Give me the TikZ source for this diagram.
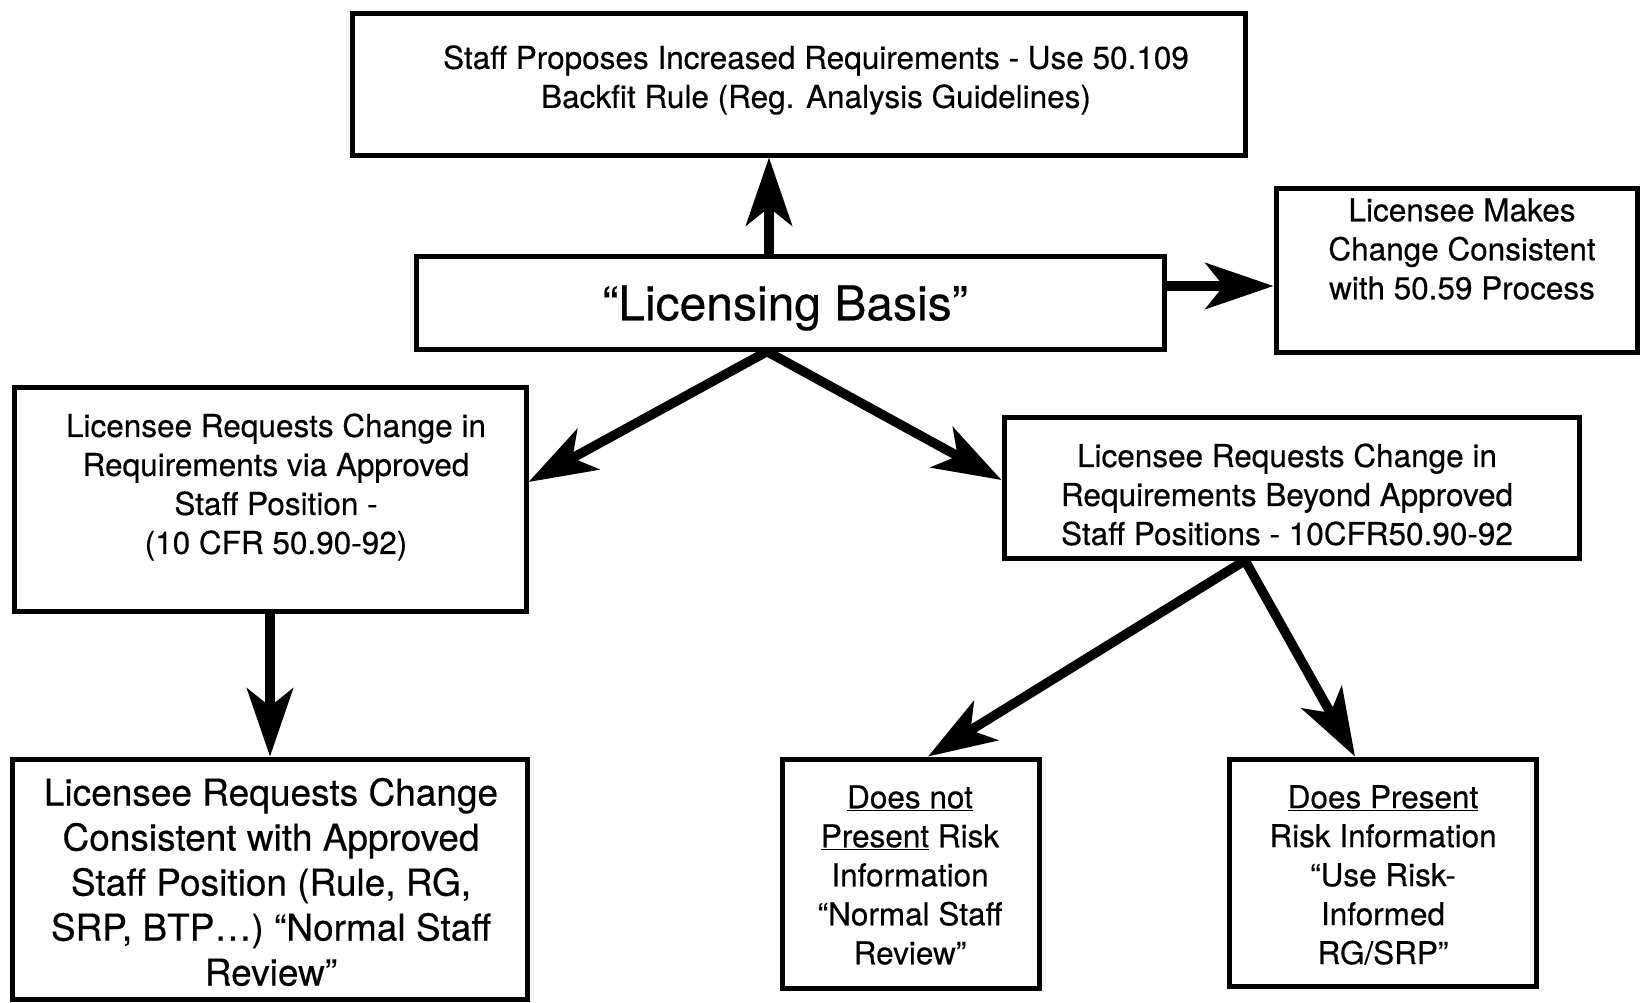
\documentclass[tikz,border=0pt]{standalone}
\usepackage{fontspec}
\setmainfont[FakeBold=0.4]{TeX Gyre Heros}
\usetikzlibrary{arrows.meta}
\begin{document}
\begin{tikzpicture}[x=1pt,y=-1pt,
  box/.style={draw, line width=5pt, inner sep=0pt},
  txt/.style={align=center, inner sep=0pt, font=\fontsize{31.5}{39}\selectfont},
  flow/.style={line width=9.5pt, -{Stealth[length=68pt,width=46pt,inset=18pt]}}]
\useasboundingbox (0,0) rectangle (1640,1002);
\fill[white] (0,0) rectangle (1640,1002);

% boxes
\node[box, minimum width=893pt, minimum height=142pt] (staff) at (798.5,84) {};
\node[box, minimum width=748pt, minimum height=93pt] (lb) at (790,302.5) {};
\node[box, minimum width=361pt, minimum height=164pt] (makes) at (1456.5,270) {};
\node[box, minimum width=512pt, minimum height=224pt] (lreq) at (270,499) {};
\node[box, minimum width=575pt, minimum height=141pt] (rreq) at (1291.5,487.5) {};
\node[box, minimum width=515pt, minimum height=240pt] (consist) at (270,879) {};
\node[box, minimum width=257pt, minimum height=229pt] (nonrisk) at (910.5,873.5) {};
\node[box, minimum width=307pt, minimum height=227pt] (risk) at (1382.5,872.5) {};

% box texts
\node[txt] (staffT) at (816,80) {Staff Proposes Increased Requirements - Use 50.109\\Backfit Rule (Reg. Analysis Guidelines)};
\node[txt, font=\fontsize{48}{58}\selectfont] (lbT) at (785,308) {“Licensing Basis”};
\node[txt] (makesT) at (1462,249) {Licensee Makes\\Change Consistent\\with 50.59 Process};
\node[txt] (lreqT) at (276,487) {Licensee Requests Change in\\Requirements via Approved\\Staff Position -\\(10 CFR 50.90-92)};
\node[txt] (rreqT) at (1287,494.5) {Licensee Requests Change in\\Requirements Beyond Approved\\Staff Positions - 10CFR50.90-92};
\node[txt, font=\fontsize{37}{45}\selectfont] (consistT) at (271,882) {Licensee Requests Change\\Consistent with Approved\\Staff Position (Rule, RG,\\SRP, BTP…) “Normal Staff\\Review”};
\node[txt] (nonriskT) at (910,875) {\underline{Does not}\\\underline{Present} Risk\\Information\\“Normal Staff\\Review”};
\node[txt] (riskT) at (1383,875) {\underline{Does Present}\\Risk Information\\“Use Risk-\\Informed\\RG/SRP”};

% connectors
\draw[flow] ([xshift=-21pt]lb.north) -- ([xshift=-29.5pt]staff.south);
\draw[flow] ([yshift=16.5pt]lb.east) -- ([yshift=-16pt]makes.west);
\draw[flow] ([xshift=-23pt]lb.south) -- ([yshift=17pt]lreq.east);
\draw[flow] ([xshift=-23pt]lb.south) -- ([yshift=7.5pt]rreq.west);
\draw[flow] (lreq.south) -- (consist.north);
\draw[flow] ([xshift=-46.5pt]rreq.south) -- ([xshift=17.5pt]nonrisk.north);
\draw[flow] ([xshift=-46.5pt]rreq.south) -- ([xshift=-27.5pt]risk.north);
\end{tikzpicture}
\end{document}
